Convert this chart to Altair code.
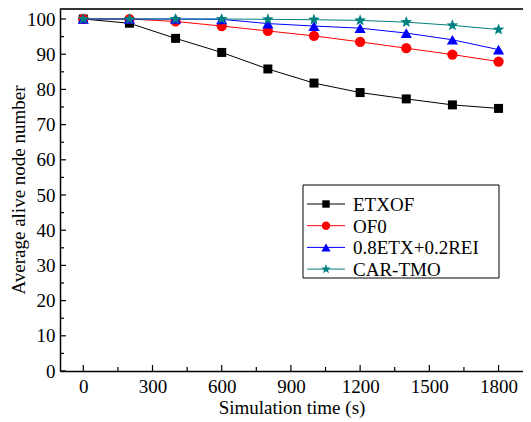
import math
import altair as alt
import pandas as pd

# ---------------- data ----------------
time_s = [0, 200, 400, 600, 800, 1000, 1200, 1400, 1600, 1800]
etxof = [100, 98.8, 94.5, 90.5, 85.8, 81.8, 79.1, 77.3, 75.6, 74.6]
of0 = [100, 100, 99.3, 98.0, 96.6, 95.2, 93.5, 91.7, 89.9, 87.9]
etx_rei = [100, 100, 100, 99.9, 98.7, 98.0, 97.4, 96.0, 94.1, 91.3]
car_tmo = [100, 100, 100, 100, 99.9, 99.8, 99.6, 99.1, 98.2, 97.0]

series_names = ["ETXOF", "OF0", "0.8ETX+0.2REI", "CAR-TMO"]
series_values = [etxof, of0, etx_rei, car_tmo]

x_ticks = [0, 300, 600, 900, 1200, 1500, 1800]
x_minor = [150, 450, 750, 1050, 1350, 1650]
y_ticks = [0, 10, 20, 30, 40, 50, 60, 70, 80, 90, 100]
y_minor = [5, 15, 25, 35, 45, 55, 65, 75, 85, 95]

# ---------------- style ----------------
FONT = "Liberation Serif"
colors = ["#000000", "#FF0000", "#0000FF", "#008080"]


def star_path(r_out=1.0, r_in=0.42):
    pts = []
    for k in range(10):
        r = r_out if k % 2 == 0 else r_in
        a = -math.pi / 2 + k * math.pi / 5
        pts.append(f"{r * math.cos(a):.3f},{r * math.sin(a):.3f}")
    return "M" + "L".join(pts) + "Z"


shapes = ["square", "circle", "triangle-up", star_path()]
sizes = [81, 105, 125, 150]
legend_sizes = [55, 70, 85, 100]

W, H = 463, 363
xs = alt.Scale(domain=[-101, 1906], nice=False, zero=False)
ys = alt.Scale(domain=[0, 103.125], nice=False, zero=False)

x_axis = alt.Axis(values=x_ticks, format="d", title="Simulation time (s)", labelPadding=6,
                  titlePadding=2)
y_axis = alt.Axis(values=y_ticks, format="d", title="Average alive node number", labelPadding=5,
                  titleX=-51, titleY=H / 2, titleAngle=-90, titleBaseline="top",
                  titleAlign="center")

X = alt.X("time:Q", scale=xs, axis=x_axis)
Y = alt.Y("value:Q", scale=ys, axis=y_axis)

rows = []
for name, vals in zip(series_names, series_values):
    for t, v in zip(time_s, vals):
        rows.append({"series": name, "time": t, "value": v})
df = pd.DataFrame(rows)

layers = []

# tick marks (inside)
layers.append(alt.Chart(pd.DataFrame({"time": x_ticks})).mark_rule(color="black", strokeWidth=1.2)
              .encode(x=X, y=alt.value(H), y2=alt.value(H - 6)))
layers.append(alt.Chart(pd.DataFrame({"time": x_minor})).mark_rule(color="black", strokeWidth=1.2)
              .encode(x=X, y=alt.value(H), y2=alt.value(H - 4)))
layers.append(alt.Chart(pd.DataFrame({"value": y_ticks})).mark_rule(color="black", strokeWidth=1.2)
              .encode(y=Y, x=alt.value(0), x2=alt.value(6)))
layers.append(alt.Chart(pd.DataFrame({"value": y_minor})).mark_rule(color="black", strokeWidth=1.2)
              .encode(y=Y, x=alt.value(0), x2=alt.value(4)))

# top frame line
layers.append(alt.Chart(alt.Data(values=[{"a": 1}])).mark_rule(color="#333333", strokeWidth=2)
              .encode(x=alt.value(0), x2=alt.value(W), y=alt.value(1)))

# series
for i, name in enumerate(series_names):
    sdf = df[df["series"] == name]
    layers.append(alt.Chart(sdf).mark_line(color=colors[i], strokeWidth=1)
                  .encode(x=X, y=Y))
    layers.append(alt.Chart(sdf).mark_point(filled=True, opacity=1, color=colors[i],
                                            shape=shapes[i], size=sizes[i])
                  .encode(x=X, y=Y))

# legend (manual, plot-relative pixels)
LX0, LX1, LY0, LY1 = 243, 439, 177, 270
layers.append(alt.Chart(alt.Data(values=[{"a": 1}])).mark_rect(fill="white", stroke="black", strokeWidth=1)
              .encode(x=alt.value(LX0), x2=alt.value(LX1), y=alt.value(LY0), y2=alt.value(LY1)))
for i, name in enumerate(series_names):
    yy = 196 + i * 21.7
    d = alt.Data(values=[{"s": name}])
    layers.append(alt.Chart(d).mark_rule(color=colors[i], strokeWidth=1)
                  .encode(x=alt.value(247), x2=alt.value(285), y=alt.value(yy)))
    layers.append(alt.Chart(d).mark_point(filled=True, opacity=1, color=colors[i],
                                          shape=shapes[i], size=legend_sizes[i])
                  .encode(x=alt.value(266), y=alt.value(yy)))
    layers.append(alt.Chart(d).mark_text(align="left", baseline="middle", font=FONT,
                                         fontSize=19, color="black")
                  .encode(x=alt.value(293), y=alt.value(yy + 1), text="s:N"))

chart = (
    alt.layer(*layers)
    .properties(width=W, height=H, autosize=alt.AutoSizeParams(type="none"),
                padding={"left": 52, "top": 0, "right": 0, "bottom": 51})
    .configure_view(stroke=None)
    .configure_axis(labelFont=FONT, titleFont=FONT, labelFontSize=19, titleFontSize=19,
                    titleFontWeight="normal", labelColor="black", titleColor="black",
                    domainColor="black", domainWidth=1.5, grid=False, ticks=False)
)

chart.save("out.html", embed_options={"renderer": "svg", "actions": False})
